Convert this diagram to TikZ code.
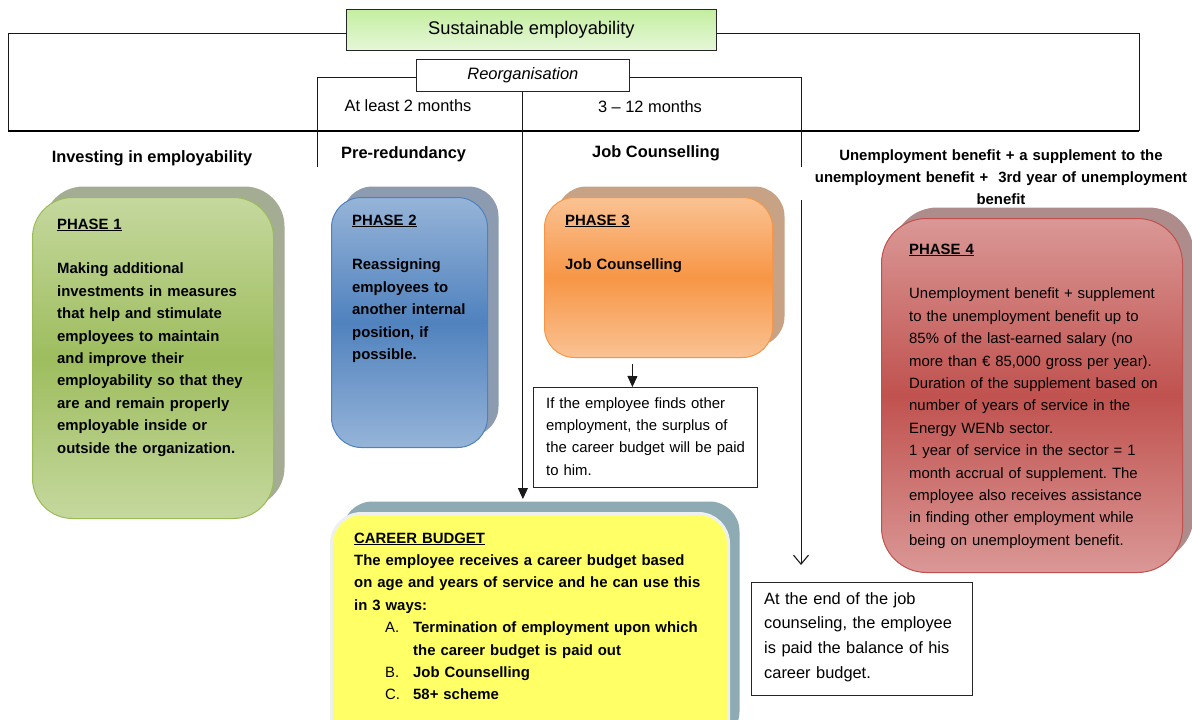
\documentclass[tikz,border=0pt]{standalone}
\usepackage{fontspec}
\setmainfont{Liberation Sans}
\usetikzlibrary{shadows,arrows.meta,calc}
\definecolor{sustop}{RGB}{196,238,160}
\definecolor{susbot}{RGB}{230,247,216}
\definecolor{gtop}{RGB}{197,216,158}
\definecolor{gmid}{RGB}{158,189,94}
\definecolor{gbrd}{RGB}{155,187,89}
\definecolor{gsh}{RGB}{164,173,147}
\definecolor{btop}{RGB}{150,180,216}
\definecolor{bmid}{RGB}{80,130,190}
\definecolor{bbrd}{RGB}{79,129,189}
\definecolor{bsh}{RGB}{141,155,176}
\definecolor{otop}{RGB}{250,194,147}
\definecolor{omid}{RGB}{247,150,70}
\definecolor{obrd}{RGB}{247,150,70}
\definecolor{osh}{RGB}{200,162,132}
\definecolor{rtop}{RGB}{218,152,150}
\definecolor{rmid}{RGB}{192,82,79}
\definecolor{rbrd}{RGB}{192,80,77}
\definecolor{rsh}{RGB}{174,140,139}
\definecolor{yel}{RGB}{255,255,102}
\definecolor{ysh}{RGB}{142,170,178}
\definecolor{ring}{RGB}{238,240,240}
\newcommand\fbody{\fontsize{14.9}{22.4}\selectfont}
\newcommand\fhead{\fontsize{16.4}{20}\selectfont}
\frenchspacing
\tikzset{
  plainbox/.style={draw=black!85, line width=0.8pt, anchor=north west, inner sep=0},
  phasebox/.style={anchor=north west, inner sep=0, line width=1pt},
  txt/.style={anchor=base west, inner sep=0, align=left, font=\fbody},
  hdr/.style={inner sep=0, font=\bfseries\fhead},
  conn/.style={draw=black!90, line width=0.9pt},
  arr/.style={conn, -{Triangle[length=11pt,width=10pt]}},
  openarr/.style={conn, -{Straight Barb[length=9pt,width=15pt,line width=1.1pt]}}
}
\begin{document}
\frenchspacing
\begin{tikzpicture}[x=1pt,y=-1pt]
\path[use as bounding box, clip] (0,0) rectangle (1192,720);
\fill[white] (0,0) rectangle (1192,720);

% top boxes
\node[plainbox, top color=sustop, bottom color=susbot, minimum width=370pt, minimum height=41pt,
  font=\fontsize{18.3}{22}\selectfont] (sust) at (346,9) {Sustainable employability};
\node[plainbox, fill=white, minimum width=213pt, minimum height=32pt,
  font=\itshape\fontsize{16.5}{20}\selectfont] (reorg) at (416,59) {Reorganisation};

\coordinate (tl) at (8,131);
\coordinate (tr) at (1139,131);
\coordinate (ml) at (317,167);
\coordinate (mr) at (801,167);
\coordinate (ms) at (801,200);

\draw[conn] ([yshift=-4pt]sust.west) -| (tl);
\draw[conn] ([yshift=-4pt]sust.east) -| (tr);
\draw[line width=2.8pt] (tl) -- (tr);
\draw[conn] ([yshift=-2pt]reorg.west) -| (ml);
\draw[conn] ([yshift=-2pt]reorg.east) -| (mr);

\node[inner sep=0, font=\fhead] (t2m) at (408,106) {At least 2 months};
\node[inner sep=0, font=\fhead] (t312) at (650,107) {3 -- 12 months};

% headers
\node[hdr, anchor=base] (h1) at (152,162) {Investing in employability};
\node[hdr, anchor=base west] (h2) at (341,158) {Pre-redundancy};
\node[hdr, anchor=base] (h3) at (656,157) {Job Counselling};
\node[inner sep=0, anchor=base, align=center, text width=440pt, font=\bfseries\fontsize{14.9}{22}\selectfont] (h4) at (1001,160)
  {Unemployment benefit + a supplement to the\\ unemployment benefit +\ \ 3rd year of unemployment\\ benefit};

% phase boxes
\node[phasebox, draw=gbrd, top color=gtop, bottom color=gtop, middle color=gmid, rounded corners=40pt,
  minimum width=241pt, minimum height=321pt,
  general shadow={fill=gsh, shadow xshift=11pt, shadow yshift=11pt}] (p1) at (32,197) {};
\node[phasebox, draw=bbrd, top color=btop, bottom color=btop, middle color=bmid, rounded corners=30pt,
  minimum width=156pt, minimum height=250pt,
  general shadow={fill=bsh, shadow xshift=11pt, shadow yshift=11pt}] (p2) at (331,197) {};
\node[phasebox, draw=obrd, top color=otop, bottom color=otop, middle color=omid, rounded corners=30pt,
  minimum width=228pt, minimum height=160pt,
  general shadow={fill=osh, shadow xshift=12pt, shadow yshift=11pt}] (p3) at (544,197) {};
\node[phasebox, draw=rbrd, top color=rtop, bottom color=rtop, middle color=rmid, rounded corners=45pt,
  minimum width=301pt, minimum height=354pt,
  general shadow={fill=rsh, shadow xshift=11pt, shadow yshift=11pt}] (p4) at (881,218) {};
\node[phasebox, draw=ring, fill=yel, line width=3pt, rounded corners=30pt,
  minimum width=397pt, minimum height=240pt,
  general shadow={fill=ysh, shadow xshift=11pt, shadow yshift=12pt}] (career) at (330,512) {};

\node[txt, text width=230pt, font=\bfseries\fbody] (p1t) at (57,229)
  {\underline{PHASE 1}\\[22.4pt]
   Making additional\\ investments in measures\\ that help and stimulate\\ employees to maintain\\
   and improve their\\ employability so that they\\ are and remain properly\\ employable inside or\\
   outside the organization.};
\node[txt, text width=140pt, font=\bfseries\fbody] (p2t) at (352,225)
  {\underline{PHASE 2}\\[22.4pt]
   Reassigning\\ employees to\\ another internal\\ position, if\\ possible.};
\node[txt, text width=200pt, font=\bfseries\fbody] (p3t) at (565,225)
  {\underline{PHASE 3}\\[22.4pt] Job Counselling};
\node[txt, text width=280pt] (p4t) at (909,254)
  {\textbf{\underline{PHASE 4}}\\[22.4pt]
   Unemployment benefit + supplement\\ to the unemployment benefit up to\\
   85\% of the last-earned salary (no\\ more than € 85,000 gross per year).\\
   Duration of the supplement based on\\ number of years of service in the\\
   Energy WENb sector.\\ 1 year of service in the sector = 1\\
   month accrual of supplement. The\\ employee also receives assistance\\
   in finding other employment while\\ being on unemployment benefit.};
\node[txt, text width=380pt, font=\bfseries\fbody] (cbt) at (354,543)
  {\underline{CAREER BUDGET}\\
   The employee receives a career budget based\\
   on age and years of service and he can use this\\
   in 3 ways:\\
   \hspace*{31pt}\makebox[28pt][l]{\mdseries A.}Termination of employment upon which\\
   \hspace*{59pt}the career budget is paid out\\
   \hspace*{31pt}\makebox[28pt][l]{\mdseries B.}Job Counselling\\
   \hspace*{31pt}\makebox[28pt][l]{\mdseries C.}58+ scheme};

% plain boxes
\node[plainbox, fill=white, minimum width=224pt, minimum height=100pt] (ifbox) at (533,387) {};
\node[txt, text width=215pt] (ift) at (546,408)
  {If the employee finds other\\ employment, the surplus of\\ the career budget will be paid\\ to him.};
\node[plainbox, fill=white, minimum width=221pt, minimum height=113pt] (endbox) at (751,582) {};
\node[txt, text width=215pt, font=\fontsize{16.4}{24.7}\selectfont] (endt) at (764,604)
  {At the end of the job\\ counseling, the employee\\ is paid the balance of his\\ career budget.};

% arrows
\draw[arr] (reorg.south) -- ($(reorg.south |- career.north)+(0,-13)$);
\draw[arr] ([xshift=-26pt,yshift=-6pt]p3.south) -- ([xshift=-13pt]ifbox.north);
\draw[openarr] (ms) -- ($(ms |- endbox.north)+(0,-17)$);
\end{tikzpicture}
\end{document}
